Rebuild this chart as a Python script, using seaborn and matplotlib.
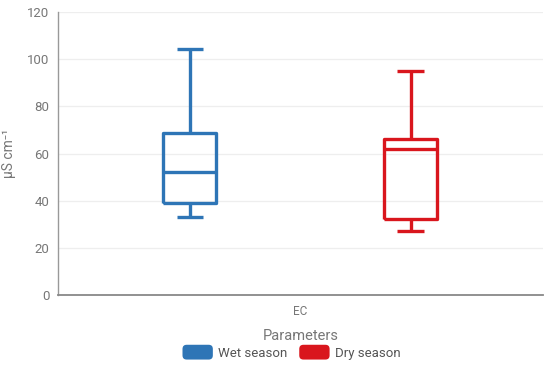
import pandas as pd
import seaborn as sns
import matplotlib.pyplot as plt
from matplotlib.patches import FancyBboxPatch
from matplotlib.legend_handler import HandlerPatch
import matplotlib.patches as mpatches

# five-number summaries (min, Q1, median, Q3, max)
parameter = "EC"
seasons = ["Wet season", "Dry season"]
wet_values = [33.0, 39.0, 52.2, 68.7, 104.3]
dry_values = [27.1, 32.2, 61.9, 66.2, 95.0]
colors = ["#2e75b6", "#d9161d"]
y_ticks = [0, 20, 40, 60, 80, 100, 120]

df = pd.DataFrame({
    "param": [parameter] * 10,
    "season": [seasons[0]] * 5 + [seasons[1]] * 5,
    "value": wet_values + dry_values,
})

sns.set_theme(style="white")
plt.rcParams['font.family'] = ['Roboto', 'DejaVu Sans']

fig, ax = plt.subplots(figsize=(5.5, 3.68), dpi=100)
fig.subplots_adjust(left=0.105, right=0.987, top=0.967, bottom=0.198)

sns.boxplot(data=df, x="param", y="value", hue="season", palette=colors,
            fill=False, width=0.91, gap=0.76, linewidth=2.4, whis=3,
            legend=False, ax=ax)

# square line ends
for line in ax.lines:
    line.set_solid_capstyle("butt")

ax.set_ylim(0, 120)
ax.set_xlim(-0.5, 0.5)
ax.set_yticks(y_ticks)
ax.yaxis.grid(True, color="#eeeeee", linewidth=0.9)
ax.set_axisbelow(True)

for s in ["top", "right"]:
    ax.spines[s].set_visible(False)
ax.spines["left"].set_color("#999999")
ax.spines["left"].set_linewidth(1.0)
ax.spines["bottom"].set_color("#888888")
ax.spines["bottom"].set_linewidth(1.3)

ax.tick_params(axis="both", length=0, labelsize=9.5, labelcolor="#777777", pad=6)
ax.tick_params(axis="x", labelsize=8.5, pad=7)
ax.set_ylabel("μS cm⁻¹", fontsize=10, color="#777777", labelpad=8)
ax.set_xlabel("Parameters", fontsize=10.5, color="#777777", labelpad=8)


class RoundedHandler(HandlerPatch):
    def create_artists(self, legend, orig_handle, xdescent, ydescent,
                       width, height, fontsize, trans):
        p = FancyBboxPatch((-xdescent, -ydescent - 2), width, height + 4,
                           boxstyle="round,pad=0,rounding_size=3",
                           facecolor=orig_handle.get_facecolor(),
                           edgecolor="none", transform=trans)
        return [p]


handles = [mpatches.Patch(facecolor=c, label=s) for c, s in zip(colors, seasons)]
fig.legend(handles=handles, loc="center", bbox_to_anchor=(0.53, 0.04), ncol=2,
           frameon=False, fontsize=9.5, handlelength=2.3, handletextpad=0.4,
           columnspacing=0.9, labelcolor="#555555",
           handler_map={mpatches.Patch: RoundedHandler()})

fig.savefig("out.png", dpi=100)
